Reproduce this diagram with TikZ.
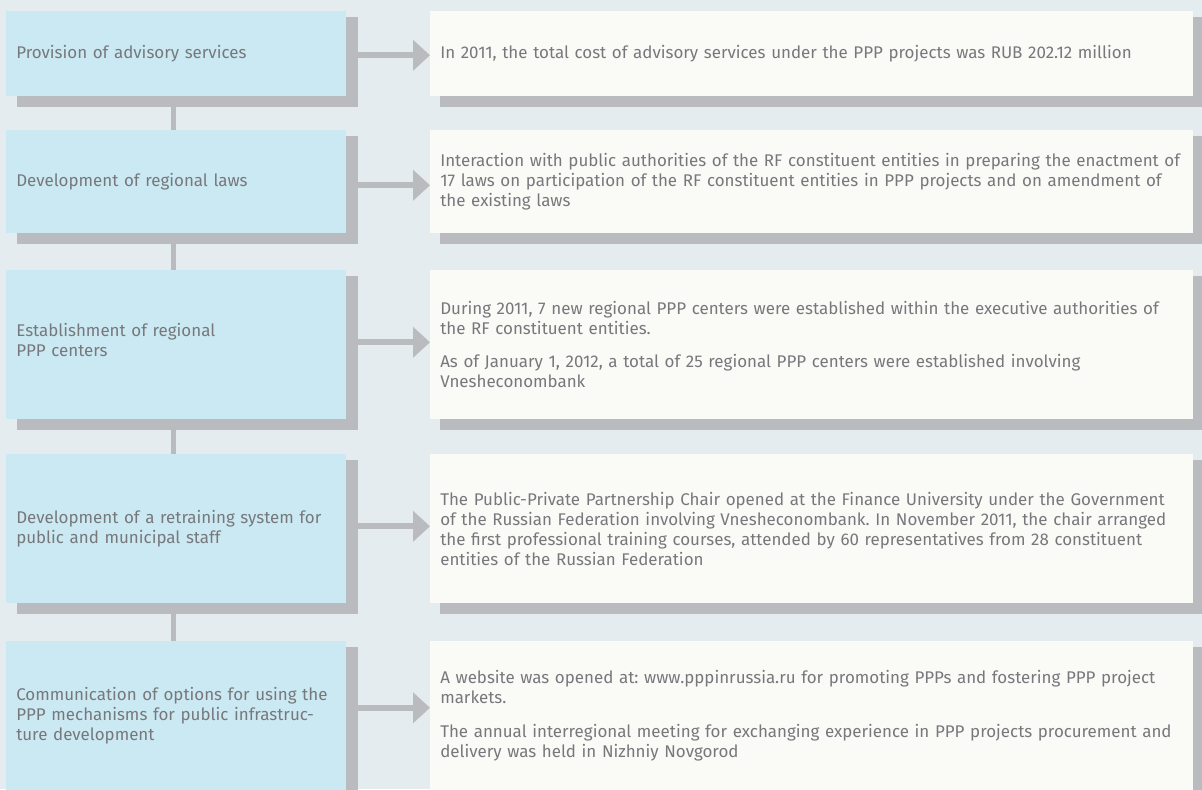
\documentclass[tikz,border=0pt]{standalone}
\usepackage{fontspec}
\setmainfont{Fira Sans}
\usetikzlibrary{arrows.meta}
\definecolor{pagebg}{HTML}{E4ECF0}
\definecolor{leftc}{HTML}{CBE9F3}
\definecolor{rightc}{HTML}{FAFAF7}
\definecolor{greyc}{HTML}{BABBBF}
\definecolor{textc}{HTML}{77787B}
\pgfdeclarelayer{bg}
\pgfdeclarelayer{shadowlayer}
\pgfsetlayers{bg,shadowlayer,main}
\frenchspacing
\begin{document}
\begin{tikzpicture}[x=0.75pt,y=-0.75pt,
  txt/.style={font=\fontsize{12.7}{15}\selectfont, text=textc, align=left,
    anchor=north west, inner xsep=7.5pt, inner ysep=0pt},
  leftbox/.style={txt, fill=leftc, text width=240pt, minimum width=255pt},
  rightbox/.style={txt, fill=rightc, text width=557.25pt, minimum width=572.25pt},
  shadowfill/.style={fill=greyc},
  link/.style={draw=greyc, line width=3.75pt},
  flow/.style={draw=greyc, line width=4.5pt,
    -{Triangle[length=12.75pt,width=22.5pt]}}]
\useasboundingbox (0,0) rectangle (1202,789);
\clip (0,0) rectangle (1202,789);
\begin{pgfonlayer}{bg}
  \fill[pagebg] (0,0) rectangle (1202,789);
\end{pgfonlayer}

% left column: activities
\node[leftbox, minimum height=63.75pt] (l1) at (6,11) {Provision of advisory services};
\node[leftbox, minimum height=77.25pt] (l2) at (6,130) {Development of regional laws};
\node[leftbox, minimum height=111.75pt] (l3) at (6,270) {Establishment of regional\\PPP centers\\[-7.5pt]\mbox{}};
\node[leftbox, minimum height=111.75pt] (l4) at (6,454) {Development of a retraining system for\\public and municipal staff};
\node[leftbox, minimum height=111.75pt] (l5) at (6,641) {Communication of options for using the\\PPP mechanisms for public infrastruc-\\ture development};

% right column: results
\node[rightbox, minimum height=63.75pt] (r1) at (430,11) {In 2011, the total cost of advisory services under the PPP projects was RUB 202.12 million};
\node[rightbox, minimum height=77.25pt] (r2) at (430,130) {Interaction with public authorities of the RF constituent entities in preparing the enactment of\\17 laws on participation of the RF constituent entities in PPP projects and on amendment of\\the existing laws};
\node[rightbox, minimum height=111.75pt] (r3) at (430,270) {During 2011, 7 new regional PPP centers were established within the executive authorities of\\the RF constituent entities.\\[10pt]As of January 1, 2012, a total of 25 regional PPP centers were established involving\\Vnesheconombank};
\node[rightbox, minimum height=111.75pt] (r4) at (430,454) {The Public-Private Partnership Chair opened at the Finance University under the Government\\of the Russian Federation involving Vnesheconombank. In November 2011, the chair arranged\\the first professional training courses, attended by 60 representatives from 28 constituent\\entities of the Russian Federation};
\node[rightbox, minimum height=111.75pt] (r5) at (430,641) {A website was opened at: www.pppinrussia.ru for promoting PPPs and fostering PPP project\\markets.\\[10pt]The annual interregional meeting for exchanging experience in PPP projects procurement and\\delivery was held in Nizhniy Novgorod};

% offset shadows and vertical links
\begin{pgfonlayer}{shadowlayer}
  \foreach \n in {l1,l2,l3,l4,l5}
    \fill[shadowfill] ([shift={(11,6)}]\n.north west) rectangle ([shift={(11,10)}]\n.south east);
  \foreach \n in {r1,r2,r3,r4,r5}
    \fill[shadowfill] ([shift={(10,6)}]\n.north west) rectangle ([shift={(9,10)}]\n.south east);
  \foreach \a/\b in {l1/l2,l2/l3,l3/l4,l4/l5}
    \draw[link] ([shift={(-2.5,0)}]\a.south) -- ([shift={(-2.5,0)}]\b.north);
\end{pgfonlayer}

% arrows from activities to results
\draw[flow] ([shift={(0,1.5)}]l1.east) -- ([shift={(0,1.5)}]r1.west);
\draw[flow] ([shift={(0,3.5)}]l2.east) -- ([shift={(0,3.5)}]r2.west);
\draw[flow] ([shift={(0,-2.5)}]l3.east) -- ([shift={(0,-2.5)}]r3.west);
\draw[flow] ([shift={(0,-2.5)}]l4.east) -- ([shift={(0,-2.5)}]r4.west);
\draw[flow] ([shift={(0,-8)}]l5.east) -- ([shift={(0,-8)}]r5.west);
\end{tikzpicture}
\end{document}
